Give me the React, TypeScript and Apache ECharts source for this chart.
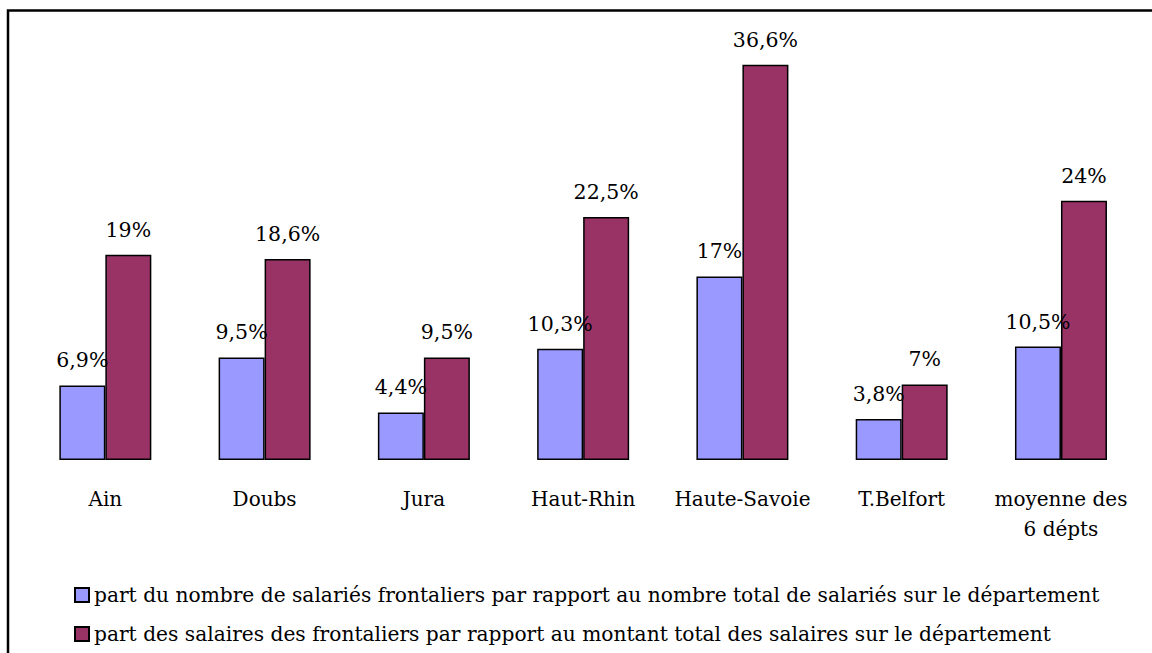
import React, { useEffect, useRef } from "react";
import * as echarts from "echarts";

const categories = ["Ain", "Doubs", "Jura", "Haut-Rhin", "Haute-Savoie", "T.Belfort", "moyenne des\n6 dépts"];
const partNombre = [6.9, 9.5, 4.4, 10.3, 17, 3.8, 10.5];
const partSalaires = [19, 18.6, 9.5, 22.5, 36.6, 7, 24];
const seriesNames = [
  "part du nombre de salariés frontaliers par rapport au nombre total de salariés sur le département",
  "part des salaires des frontaliers par rapport au montant total des salaires sur le département",
];

const FONT = "DejaVu Serif";
const FS = 20;

const fmt = (p: any) => String(p.value).replace(".", ",") + "%";

export default function App() {
  const ref = useRef<HTMLDivElement>(null);
  useEffect(() => {
    if (!ref.current) return;
    const chart = echarts.init(ref.current, null, { renderer: "svg" });
    const labelCfg = {
      show: true,
      position: "top",
      distance: 13,
      formatter: fmt,
      fontFamily: FONT,
      fontSize: 20.5,
      lineHeight: 24,
      color: "#000",
    };
    const legendBase = {
      left: 74,
      padding: 0,
      itemWidth: 14,
      itemHeight: 14,
      icon: "rect",
      orient: "horizontal",
      textStyle: { fontFamily: FONT, fontSize: 20.2, lineHeight: 24, color: "#000" },
    };
    chart.setOption({
      animation: false,
      backgroundColor: "#fff",
      textStyle: { fontFamily: FONT },
      graphic: [
        {
          type: "rect",
          shape: { x: 8, y: 10.5, width: 1400, height: 1000 },
          style: { fill: "none", stroke: "#000", lineWidth: 2.5 },
          silent: true,
        },
      ],
      grid: { left: 25.7, right: 11.4, top: 28, bottom: 193, containLabel: false },
      xAxis: {
        type: "category",
        data: categories,
        axisLine: { show: false },
        axisTick: { show: false },
        axisLabel: {
          interval: 0,
          margin: 24,
          fontFamily: FONT,
          fontSize: FS,
          lineHeight: 30,
          color: "#000",
        },
      },
      yAxis: {
        type: "value",
        min: 0,
        max: 40,
        show: false,
        splitLine: { show: false },
      },
      legend: [
        { ...legendBase, top: 583, data: [seriesNames[0]] },
        { ...legendBase, top: 622, data: [seriesNames[1]] },
      ],
      series: [
        {
          name: seriesNames[0],
          type: "bar",
          data: partNombre,
          barWidth: 46,
          barGap: "0%",
          itemStyle: { color: "#9999FF", borderColor: "#000", borderWidth: 1.5 },
          label: labelCfg,
        },
        {
          name: seriesNames[1],
          type: "bar",
          data: partSalaires,
          barWidth: 46,
          barGap: "0%",
          itemStyle: { color: "#993366", borderColor: "#000", borderWidth: 1.5 },
          label: labelCfg,
        },
      ],
    });
    return () => chart.dispose();
  }, []);
  return (
    <div
      ref={ref}
      style={{ position: "absolute", left: 0, top: 0, width: 1152, height: 653 }}
    />
  );
}
